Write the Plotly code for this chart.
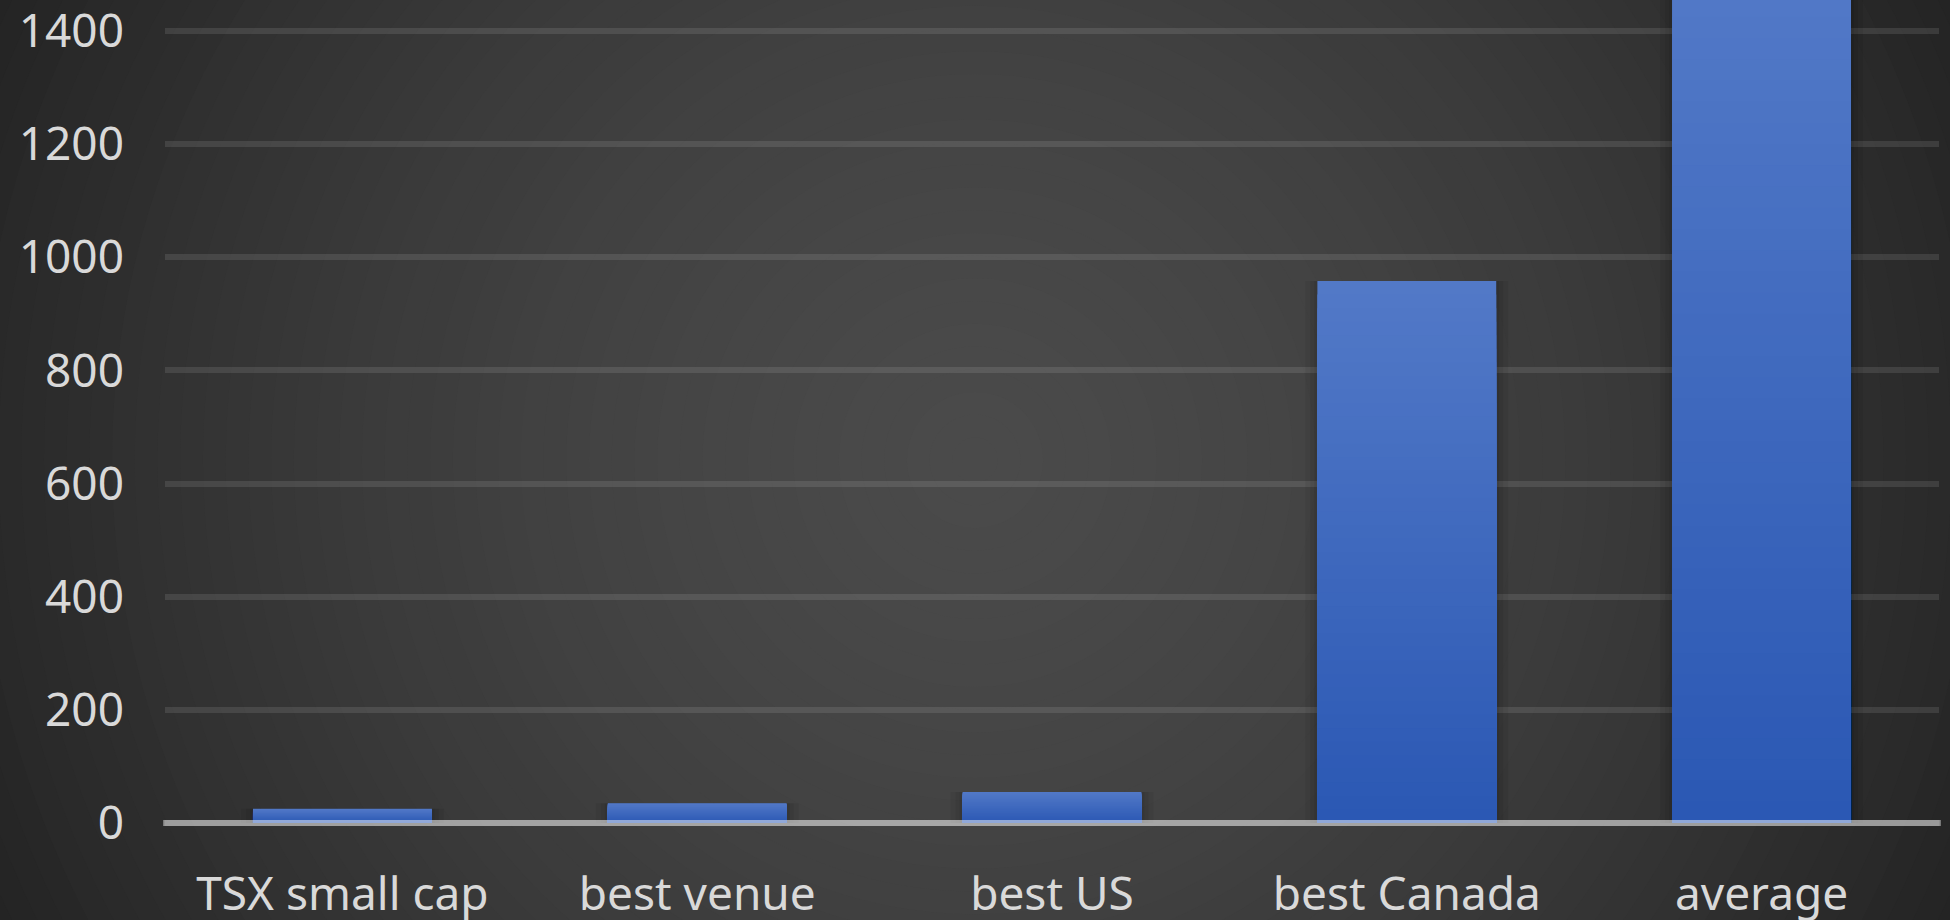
import plotly.graph_objects as go

# ---- data ----
categories = ["TSX small cap", "best venue", "best US", "best Canada", "average"]
values = [25, 35, 55, 958, 1500]
y_tick_values = [0, 200, 400, 600, 800, 1000, 1200, 1400]
y_tick_labels = ["0", "200", "400", "600", "800", "1000", "1200", "1400"]

# ---- layout geometry / style ----
W, H = 1950, 920
ML, MR, MT, MB = 165, 11, 0, 80
PW, PH = W - ML - MR, H - MT - MB
BAR_W = 0.504
FONT = dict(family="Noto Sans, DejaVu Sans, sans-serif", size=46, color="#d9d9d9")

TOP_RGB = (82, 121, 199)
BOT_RGB = (43, 88, 180)


def lerp(a, b, t):
    return tuple(int(round(a[i] + (b[i] - a[i]) * t)) for i in range(3))


fig = go.Figure()

# soft shadow around the bars
for extra in (3, 7, 12):
    fig.add_trace(go.Bar(
        x=categories, y=values, width=BAR_W + 2 * extra / (PW / len(categories)),
        marker=dict(color="rgba(0,0,0,0.06)", line=dict(width=0)),
        hoverinfo="skip", showlegend=False))

# vertical gradient bars (stepwise overlay)
N = 40
for k in range(N):
    frac = (N - k) / N
    c = lerp(TOP_RGB, BOT_RGB, k / (N - 1))
    fig.add_trace(go.Bar(
        x=categories, y=[v * frac for v in values], width=BAR_W,
        marker=dict(color="rgb(%d,%d,%d)" % c, line=dict(width=0)),
        hoverinfo="skip" if k else None, showlegend=False))

# radial background gradient built from concentric circles
shapes = []
cx, cy = W / 2, H / 2
R0 = 990.0
NC = 48
rmax = 1090.0
xa = (cx - ML) / PW
ya = (MT + PH - cy) / PH
for i in range(NC):
    r = rmax * (1 - i / NC)
    t = (r / R0) ** 1.6
    g = 74 - 33 * t
    g = max(34, min(74, g))
    g = int(round(g))
    shapes.append(dict(
        type="circle", layer="below", xref="paper", yref="paper",
        xsizemode="pixel", ysizemode="pixel", xanchor=xa, yanchor=ya,
        x0=-r, x1=r, y0=-r, y1=r,
        fillcolor="rgb(%d,%d,%d)" % (g, g, g), line=dict(width=0)))

# baseline (category axis line) drawn over the bars
shapes.append(dict(
    type="line", layer="above", xref="x domain", yref="y",
    x0=-0.001, x1=1.001, y0=0, y1=0,
    line=dict(color="rgba(255,255,255,0.48)", width=6)))

px_per_unit = (823 - 31) / 1400.0
y_top = 1400 + 31 / px_per_unit
y_bot = -(MT + PH - 823) / px_per_unit

fig.update_layout(
    width=W, height=H,
    margin=dict(l=ML, r=MR, t=MT, b=MB, pad=0, autoexpand=False),
    paper_bgcolor="#262626",
    plot_bgcolor="rgba(0,0,0,0)",
    barmode="overlay",
    showlegend=False,
    shapes=shapes,
    font=FONT,
    xaxis=dict(
        type="category", showgrid=False, zeroline=False, showline=False,
        ticks="", tickfont=FONT, ticklabelstandoff=23, automargin=False,
        ticklabeloverflow="allow",
        range=[-0.5, len(categories) - 0.5], fixedrange=True),
    yaxis=dict(
        range=[y_bot, y_top], tickmode="array",
        tickvals=y_tick_values, ticktext=y_tick_labels,
        showgrid=True, gridcolor="rgba(255,255,255,0.10)", gridwidth=6,
        zeroline=False, showline=False, ticks="", tickfont=FONT,
        ticklabelstandoff=40, automargin=False, ticklabeloverflow="allow",
        fixedrange=True),
)

fig.write_html(
    "out.html",
    config={"displayModeBar": False, "staticPlot": True},
    post_script="document.body.style.margin='0';document.body.style.overflow='hidden';",
)
